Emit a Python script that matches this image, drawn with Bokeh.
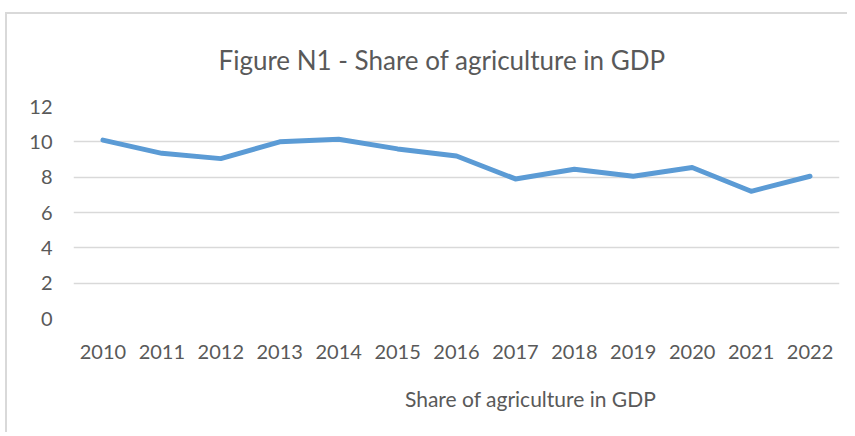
from bokeh.plotting import figure
from bokeh.layouts import column
from bokeh.models import Range1d, FactorRange, Legend, LegendItem, Title, FixedTicker
from bokeh.embed import file_html
from bokeh.resources import INLINE

years = ["2010", "2011", "2012", "2013", "2014", "2015", "2016",
         "2017", "2018", "2019", "2020", "2021", "2022"]
share = [10.1, 9.35, 9.05, 10.0, 10.15, 9.6, 9.2, 7.9, 8.45, 8.05, 8.55, 7.2, 8.05]
y_ticks = [0, 2, 4, 6, 8, 10, 12]
title_text = "Figure N1 - Share of agriculture in GDP"
series_name = "Share of agriculture in GDP"

FONT = "Lato"
GRAY = "#595959"
BLUE = "#5B9BD5"

fig = figure(x_range=FactorRange(*years, range_padding=0),
             y_range=Range1d(0, 12),
             frame_width=766, frame_height=212,
             min_border_left=66, min_border_right=8,
             min_border_top=90, min_border_bottom=50,
             output_backend="svg", toolbar_location=None,
             background_fill_color="white", border_fill_color="white")

fig.title = Title(text=title_text, align="left", offset=145, vertical_align="top",
                  text_font=FONT, text_font_size="26px", text_font_style="normal",
                  text_color=GRAY, standoff=58)

fig.outline_line_color = None
fig.xgrid.grid_line_color = None
fig.ygrid.grid_line_color = "#d9d9d9"
fig.ygrid.grid_line_width = 1.5
fig.yaxis.ticker = FixedTicker(ticks=y_ticks)

for ax in (fig.xaxis[0], fig.yaxis[0]):
    ax.axis_line_color = None
    ax.major_tick_line_color = None
    ax.minor_tick_line_color = None
    ax.major_tick_out = 0
    ax.major_tick_in = 0
    ax.minor_tick_out = 0
    ax.minor_tick_in = 0
    ax.major_label_text_font = FONT
    ax.major_label_text_font_size = "20px"
    ax.major_label_text_color = GRAY
fig.yaxis.major_label_standoff = 21
fig.xaxis.major_label_standoff = 26

fig.line(years, share, line_color=BLUE, line_width=5, line_join="round", line_cap="round")

# legend strip below the chart
leg = figure(width=840, height=64, x_range=Range1d(0, 1), y_range=Range1d(0, 1),
             x_axis_location=None, y_axis_location=None, min_border=0,
             output_backend="svg", toolbar_location=None,
             background_fill_color="white", border_fill_color="white")
leg.grid.visible = False
leg.outline_line_color = None
r2 = leg.line(x=[], y=[], line_color=BLUE, line_width=5)
legend = Legend(items=[LegendItem(label=series_name, renderers=[r2])],
                orientation="horizontal", location=(273, 21),
                label_text_font=FONT, label_text_font_size="21px",
                label_text_color=GRAY, glyph_width=56, glyph_height=22,
                label_height=22, label_standoff=3,
                padding=0, margin=0, border_line_color=None,
                background_fill_alpha=0)
leg.add_layout(legend, "center")

p = column(fig, leg, spacing=0,
           styles={"margin-left": "5px", "margin-top": "12px",
                   "border-top": "2px solid #d9d9d9", "border-left": "2px solid #d9d9d9"})

open("out.html", "w").write(file_html(p, INLINE))
